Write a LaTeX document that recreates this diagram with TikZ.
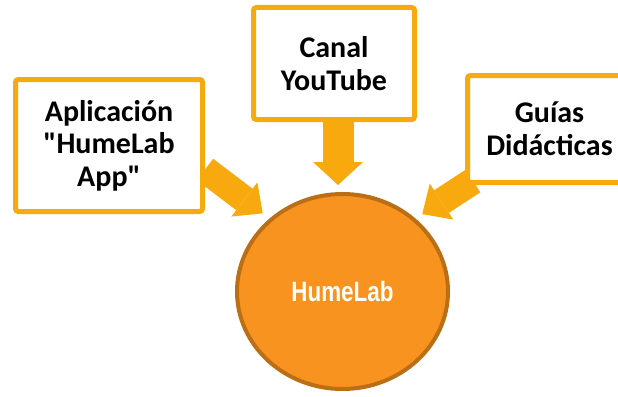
\documentclass[tikz,border=0pt]{standalone}
\usepackage{fontspec}
\setmainfont{Carlito}
\newfontfamily\hubfont[FakeStretch=0.8]{Liberation Sans}
\usetikzlibrary{shapes, arrows.meta, backgrounds}
\definecolor{boxorange}{RGB}{247,169,14}
\definecolor{hubfill}{RGB}{247,147,30}
\definecolor{hubline}{RGB}{186,110,22}
\tikzset{
    normal/.style={draw, line width=5pt},
    box/.style={style=normal, draw=boxorange, fill=white, rounded corners=1mm, align=center, font=\fontsize{30}{32.5}\selectfont\bfseries}, % source boxes
    hub/.style={ellipse, draw=hubline, fill=hubfill, line width=4pt, minimum width=211pt, minimum height=195pt, inner sep=0pt, text=white, font=\hubfont\fontsize{28}{30}\selectfont\bfseries}, % centre
    arr/.style={draw=boxorange, line width=27pt, -{Triangle[width=43pt, length=23pt, line width=0pt]}}, % block arrow
    bigarr/.style={style=arr, line width=31pt, -{Triangle[width=50pt, length=23pt, line width=0pt]}}
}

\begin{document}
\begin{tikzpicture}[x=1pt, y=-1pt]
        \useasboundingbox (0,0) rectangle (618,396);

        \node[box, minimum width=187pt, minimum height=132pt] (app) at (109,145.5) {Aplicación\\\textquotedbl HumeLab\\App\textquotedbl};
        \node[box, minimum width=161pt, minimum height=112pt] (canal) at (334,63.5) {Canal\\YouTube};
        \node[box, minimum width=164pt, minimum height=107pt] (guias) at (549.5,129) {Guías\\Didácticas};
        \node[hub] (hub) at (342.5,291.5) {HumeLab};

        \coordinate (canal_out) at ([xshift=4pt]canal.south);
        \begin{scope}[on background layer]
            \draw[bigarr, shorten >=7pt] (canal_out) to (canal_out |- hub.north);
            \draw[arr, shorten >=8.5pt] ([yshift=-24pt]app.east) to (hub.135);
            \draw[arr, shorten >=8pt] ([xshift=8pt, yshift=4pt]guias.south west) to (hub.45);
        \end{scope}
      \end{tikzpicture}
\end{document}
